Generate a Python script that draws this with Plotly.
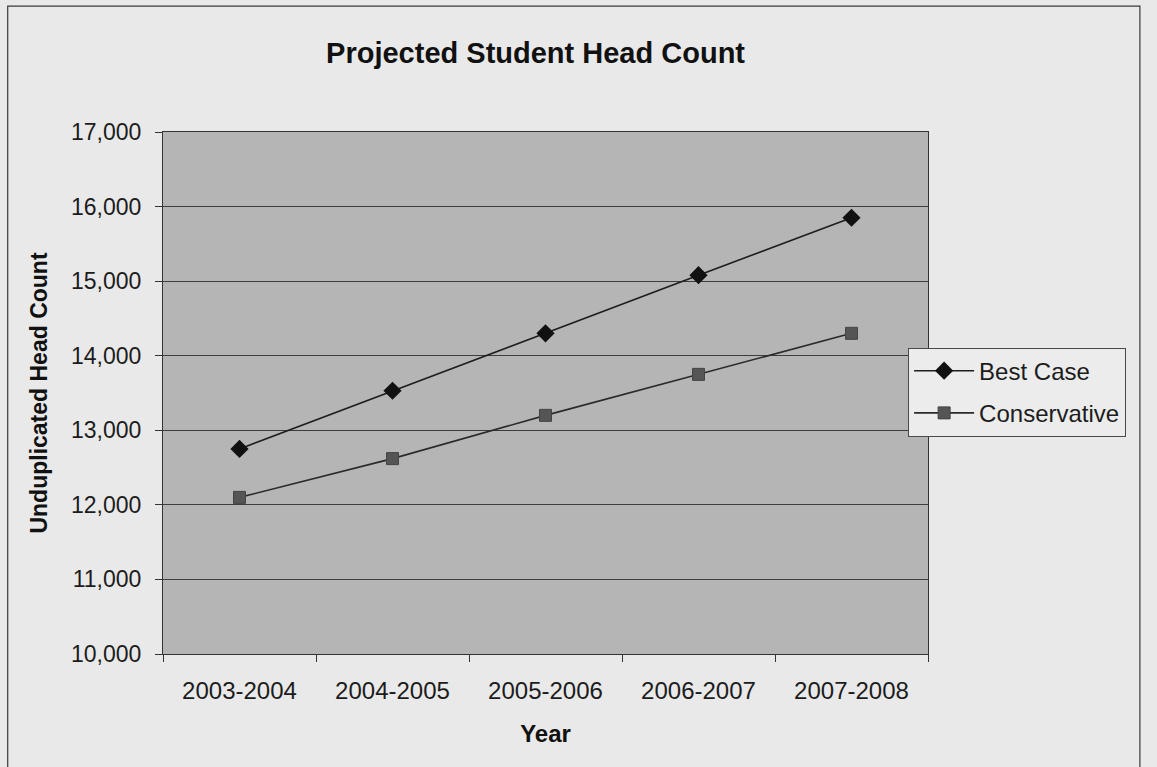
import plotly.graph_objects as go

# Projected enrollment by academic year
years = ["2003-2004", "2004-2005", "2005-2006", "2006-2007", "2007-2008"]
best_case = [12750, 13530, 14300, 15080, 15850]
conservative = [12100, 12620, 13200, 13750, 14300]

y_ticks = [10000, 11000, 12000, 13000, 14000, 15000, 16000, 17000]
y_tick_text = ["10,000", "11,000", "12,000", "13,000", "14,000", "15,000", "16,000", "17,000"]

FONT = "Liberation Sans, Arial, sans-serif"
INK = "#1c1c1c"

fig = go.Figure()
fig.add_trace(go.Scatter(
    x=years, y=best_case, name="Best Case", mode="lines+markers",
    legendgroup="a",
    line=dict(color="#1e1e1e", width=1.6),
    marker=dict(symbol="diamond", size=14, color="#111111"),
))
fig.add_trace(go.Scatter(
    x=years, y=conservative, name="Conservative", mode="lines+markers",
    legendgroup="b",
    line=dict(color="#2a2a2a", width=1.6),
    marker=dict(symbol="square", size=12, color="#555555",
                line=dict(color="#444444", width=1)),
))

# outer chart frame
fig.add_shape(type="rect", xref="paper", yref="paper",
              x0=-0.203, x1=1.277, y0=-0.24, y1=1.241,
              line=dict(color="#3a3a3a", width=1.2), fillcolor="rgba(0,0,0,0)",
              layer="below")

fig.update_layout(
    width=1157, height=767,
    margin=dict(l=163, r=229, t=132, b=113),
    paper_bgcolor="#e9e9e9",
    plot_bgcolor="#b5b5b5",
    font=dict(family=FONT, color=INK, size=23),
    title=dict(text="<b>Projected Student Head Count</b>",
               x=0.487, xref="paper", xanchor="center",
               y=1 - 53 / 767, yref="container", yanchor="middle",
               font=dict(size=29, family=FONT, color="#111111")),
    showlegend=True,
    legend=dict(x=0.974, y=0.587, xanchor="left", yanchor="top",
                bgcolor="#ececec", bordercolor="#4a4a4a", borderwidth=1,
                font=dict(size=24, family=FONT, color=INK),
                tracegroupgap=8, itemwidth=60),
    xaxis=dict(
        type="category", categoryorder="array", categoryarray=years,
        showgrid=False, showline=True, linecolor="#333333", linewidth=1.2,
        mirror=True, ticks="outside", tickson="boundaries", ticklen=7,
        tickcolor="#333333", ticklabelstandoff=15,
        tickfont=dict(size=24, family=FONT, color=INK),
        title=dict(text="<b>Year</b>", standoff=22,
                   font=dict(size=24, family=FONT, color="#111111")),
        range=[-0.5, 4.5], automargin=False,
    ),
    yaxis=dict(
        range=[10000, 17000], tickvals=y_ticks, ticktext=y_tick_text,
        showgrid=True, gridcolor="#3d3d3d", gridwidth=1,
        showline=True, linecolor="#333333", linewidth=1.2, mirror=True,
        ticks="outside", ticklen=7, tickcolor="#333333", ticklabelstandoff=9,
        tickfont=dict(size=23, family=FONT, color=INK),
        title=dict(text="<b>Unduplicated Head Count</b>", standoff=16,
                   font=dict(size=23, family=FONT, color="#111111")),
        zeroline=False, automargin=False,
    ),
)

fig.write_html("out.html")
